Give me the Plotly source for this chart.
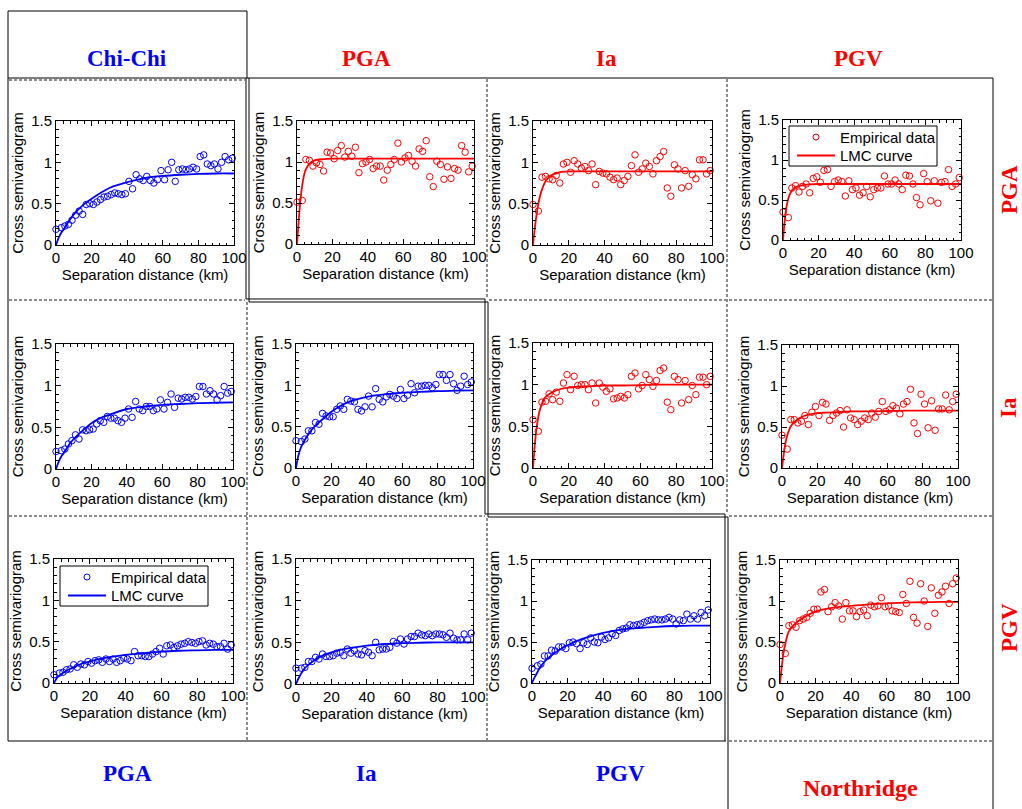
import plotly.graph_objects as go

W, H = 1022, 809

# Separation distance of the empirical bins (km)
DIST = [0, 3, 5, 7, 9, 11, 13, 15, 17, 19, 21, 23, 25, 27, 29, 31, 33, 35, 37, 39,
        41, 43, 45, 47, 49, 51, 53, 55, 57, 59, 61, 63, 65, 67, 69, 71, 73, 75, 77, 79,
        81, 83, 85, 87, 89, 91, 93, 95, 97, 99]
# Distances at which the fitted LMC curves are tabulated (km)
FIT_DIST = [0, 1, 2, 3, 4, 5, 7, 10, 15, 20, 25, 30, 40, 50, 60, 70, 80, 90, 100]

# ---- Chi-Chi (lower triangle) ----
CC_PGA_PGA = [0.19, 0.21, 0.23, 0.25, 0.30, 0.36, 0.41, 0.37, 0.49, 0.50,
              0.49, 0.52, 0.55, 0.58, 0.59, 0.61, 0.63, 0.62, 0.61, 0.62,
              0.77, 0.68, 0.85, 0.80, 0.78, 0.83, 0.78, 0.75, 0.79, 0.90,
              0.79, 0.91, 1.00, 0.77, 0.91, 0.92, 0.91, 0.92, 0.94, 0.92,
              1.07, 1.09, 0.98, 0.96, 0.98, 0.92, 1.00, 1.07, 1.03, 1.05]
CC_PGA_PGA_FIT = [0, 0.06, 0.11, 0.15, 0.18, 0.21, 0.28, 0.37, 0.48, 0.56,
                  0.63, 0.69, 0.76, 0.81, 0.835, 0.85, 0.86, 0.865, 0.865]

CC_PGA_IA = [0.21, 0.22, 0.24, 0.30, 0.34, 0.41, 0.36, 0.47, 0.46, 0.47,
             0.48, 0.54, 0.58, 0.56, 0.63, 0.61, 0.61, 0.58, 0.56, 0.61,
             0.72, 0.62, 0.81, 0.72, 0.70, 0.75, 0.75, 0.70, 0.72, 0.83,
             0.72, 0.80, 0.90, 0.74, 0.85, 0.84, 0.86, 0.86, 0.84, 0.87,
             0.99, 0.99, 0.90, 0.94, 0.90, 0.83, 0.88, 0.99, 0.91, 0.93]
CC_PGA_IA_FIT = [0, 0.06, 0.11, 0.15, 0.18, 0.21, 0.28, 0.36, 0.46, 0.55,
                 0.61, 0.65, 0.72, 0.75, 0.77, 0.78, 0.79, 0.795, 0.80]

CC_IA_IA = [0.33, 0.32, 0.35, 0.45, 0.45, 0.55, 0.53, 0.66, 0.63, 0.62,
            0.62, 0.71, 0.75, 0.71, 0.83, 0.81, 0.80, 0.71, 0.69, 0.74,
            0.87, 0.74, 0.96, 0.83, 0.80, 0.86, 0.89, 0.87, 0.84, 0.95,
            0.84, 0.88, 1.02, 0.91, 0.99, 0.99, 1.00, 1.00, 0.97, 1.01,
            1.13, 1.13, 1.06, 1.13, 1.02, 0.94, 0.99, 1.11, 1.01, 1.04]
CC_IA_IA_FIT = [0, 0.12, 0.20, 0.26, 0.30, 0.34, 0.41, 0.49, 0.59, 0.68,
                0.75, 0.80, 0.86, 0.89, 0.91, 0.92, 0.93, 0.935, 0.94]

CC_PGV_PGA = [0.10, 0.12, 0.13, 0.16, 0.17, 0.22, 0.19, 0.23, 0.22, 0.26,
              0.24, 0.27, 0.28, 0.25, 0.29, 0.26, 0.29, 0.25, 0.27, 0.30,
              0.29, 0.27, 0.38, 0.33, 0.33, 0.32, 0.32, 0.35, 0.38, 0.42,
              0.35, 0.45, 0.46, 0.43, 0.45, 0.47, 0.48, 0.50, 0.49, 0.48,
              0.50, 0.51, 0.46, 0.48, 0.47, 0.44, 0.44, 0.48, 0.41, 0.46]
CC_PGV_PGA_FIT = [0, 0.04, 0.07, 0.09, 0.11, 0.12, 0.15, 0.18, 0.23, 0.26,
                  0.29, 0.31, 0.34, 0.36, 0.38, 0.39, 0.395, 0.40, 0.40]

CC_PGV_IA = [0.19, 0.19, 0.20, 0.27, 0.27, 0.32, 0.30, 0.36, 0.33, 0.33,
             0.34, 0.37, 0.38, 0.34, 0.42, 0.37, 0.40, 0.36, 0.35, 0.40,
             0.38, 0.34, 0.50, 0.41, 0.42, 0.42, 0.44, 0.51, 0.49, 0.54,
             0.48, 0.54, 0.57, 0.57, 0.61, 0.59, 0.58, 0.60, 0.58, 0.60,
             0.60, 0.59, 0.56, 0.61, 0.55, 0.53, 0.53, 0.60, 0.53, 0.61]
CC_PGV_IA_FIT = [0, 0.05, 0.09, 0.13, 0.16, 0.19, 0.23, 0.28, 0.34, 0.38,
                 0.41, 0.43, 0.46, 0.48, 0.49, 0.495, 0.50, 0.50, 0.50]

CC_PGV_PGV = [0.18, 0.21, 0.23, 0.33, 0.33, 0.40, 0.39, 0.44, 0.44, 0.42,
              0.49, 0.50, 0.48, 0.42, 0.49, 0.47, 0.55, 0.50, 0.49, 0.56,
              0.53, 0.55, 0.60, 0.58, 0.64, 0.66, 0.67, 0.71, 0.70, 0.71,
              0.72, 0.74, 0.76, 0.77, 0.78, 0.77, 0.77, 0.78, 0.80, 0.78,
              0.72, 0.77, 0.76, 0.84, 0.78, 0.82, 0.78, 0.86, 0.82, 0.89]
CC_PGV_PGV_FIT = [0, 0.05, 0.09, 0.13, 0.17, 0.20, 0.26, 0.32, 0.40, 0.46,
                  0.51, 0.55, 0.61, 0.65, 0.67, 0.685, 0.695, 0.70, 0.70]

# ---- Northridge (upper triangle) ----
NR_PGA_PGA = [0.51, 0.53, 1.03, 1.02, 0.95, 0.99, 0.97, 0.89, 1.12, 1.11,
              1.04, 1.14, 1.20, 1.06, 1.13, 1.07, 1.18, 0.87, 0.98, 1.00,
              1.03, 0.92, 0.95, 0.95, 0.78, 0.90, 0.97, 1.03, 1.23, 1.00,
              1.05, 1.08, 1.01, 0.95, 1.16, 1.13, 1.26, 0.82, 0.70, 1.01,
              0.97, 0.79, 0.94, 0.80, 0.92, 0.90, 1.20, 1.12, 0.88, 0.95]
NR_PGA_PGA_FIT = [0, 0.30, 0.55, 0.72, 0.84, 0.91, 0.98, 1.02, 1.035, 1.04,
                  1.04, 1.04, 1.04, 1.04, 1.04, 1.04, 1.04, 1.04, 1.04]

NR_PGA_IA = [0.49, 0.41, 0.82, 0.83, 0.80, 0.79, 0.84, 0.75, 0.98, 1.00,
             0.88, 1.02, 0.98, 0.93, 0.95, 0.90, 0.98, 0.73, 0.89, 0.87,
             0.86, 0.82, 0.79, 0.81, 0.73, 0.78, 0.83, 0.96, 1.09, 0.88,
             0.92, 0.99, 0.95, 0.86, 1.02, 1.07, 1.13, 0.69, 0.59, 0.97,
             0.92, 0.69, 0.90, 0.71, 0.85, 0.80, 1.03, 1.03, 0.86, 0.90]
NR_PGA_IA_FIT = [0, 0.20, 0.37, 0.50, 0.60, 0.67, 0.77, 0.84, 0.88, 0.89,
                 0.89, 0.89, 0.89, 0.89, 0.89, 0.89, 0.89, 0.89, 0.89]

NR_PGA_PGV = [0.35, 0.28, 0.65, 0.68, 0.60, 0.67, 0.70, 0.59, 0.77, 0.79,
              0.72, 0.87, 0.88, 0.67, 0.73, 0.75, 0.73, 0.55, 0.74, 0.63,
              0.65, 0.56, 0.59, 0.67, 0.54, 0.63, 0.65, 0.65, 0.80, 0.70,
              0.70, 0.75, 0.70, 0.63, 0.81, 0.80, 0.70, 0.53, 0.44, 0.83,
              0.73, 0.49, 0.74, 0.46, 0.72, 0.73, 0.88, 0.67, 0.70, 0.78]
NR_PGA_PGV_FIT = [0, 0.25, 0.42, 0.52, 0.58, 0.62, 0.66, 0.68, 0.695, 0.70,
                  0.70, 0.70, 0.70, 0.70, 0.70, 0.70, 0.70, 0.70, 0.70]

NR_IA_IA = [0.58, 0.44, 0.79, 0.80, 0.89, 0.82, 0.91, 0.80, 1.02, 1.12,
            0.94, 1.10, 0.99, 1.00, 1.00, 0.94, 1.02, 0.78, 1.02, 0.97,
            0.92, 0.95, 0.83, 0.84, 0.86, 0.84, 0.88, 1.10, 1.14, 0.95,
            0.99, 1.12, 1.06, 0.98, 1.05, 1.17, 1.20, 0.79, 0.70, 1.10,
            1.06, 0.78, 1.05, 0.82, 0.99, 0.88, 1.09, 1.09, 1.00, 1.10]
NR_IA_IA_FIT = [0, 0.28, 0.48, 0.62, 0.71, 0.77, 0.85, 0.90, 0.945, 0.965,
                0.975, 0.98, 0.99, 0.99, 0.995, 1.0, 1.0, 1.0, 1.0]

NR_IA_PGV = [0.40, 0.23, 0.59, 0.59, 0.55, 0.57, 0.64, 0.53, 0.68, 0.75,
             0.64, 0.80, 0.78, 0.58, 0.64, 0.67, 0.70, 0.50, 0.71, 0.61,
             0.59, 0.53, 0.57, 0.61, 0.59, 0.67, 0.62, 0.69, 0.81, 0.69,
             0.71, 0.76, 0.73, 0.66, 0.78, 0.81, 0.96, 0.55, 0.42, 0.90,
             0.78, 0.49, 0.82, 0.46, 0.72, 0.72, 0.89, 0.71, 0.81, 0.90]
NR_IA_PGV_FIT = [0, 0.17, 0.31, 0.40, 0.46, 0.51, 0.56, 0.61, 0.65, 0.67,
                 0.675, 0.68, 0.69, 0.69, 0.695, 0.70, 0.70, 0.70, 0.70]

NR_PGV_PGV = [0.47, 0.36, 0.70, 0.71, 0.68, 0.76, 0.78, 0.80, 0.85, 0.90,
              0.90, 1.11, 1.14, 0.87, 0.93, 0.98, 0.94, 0.78, 0.98, 0.88,
              0.88, 0.81, 0.87, 0.89, 0.82, 0.95, 0.93, 0.94, 1.04, 0.93,
              0.94, 0.88, 0.87, 0.86, 1.08, 0.97, 1.24, 0.80, 0.73, 1.21,
              1.00, 0.69, 1.16, 0.85, 1.07, 1.11, 1.18, 0.97, 1.21, 1.28]
NR_PGV_PGV_FIT = [0, 0.20, 0.37, 0.48, 0.57, 0.63, 0.69, 0.75, 0.82, 0.87,
                  0.90, 0.92, 0.94, 0.96, 0.97, 0.98, 0.985, 0.99, 0.99]

BLUE = "#0000ff"
RED = "#ff0000"

# (points, fitted curve, colour, plot-area box in pixels: left, right, top, bottom)
PANELS = [
    (CC_PGA_PGA, CC_PGA_PGA_FIT, BLUE, (56, 234, 121, 245)),
    (NR_PGA_PGA, NR_PGA_PGA_FIT, RED, (297, 474, 121, 244)),
    (NR_PGA_IA, NR_PGA_IA_FIT, RED, (533, 712, 121, 245)),
    (NR_PGA_PGV, NR_PGA_PGV_FIT, RED, (783, 961, 120, 240)),
    (CC_PGA_IA, CC_PGA_IA_FIT, BLUE, (56, 233, 344, 469)),
    (CC_IA_IA, CC_IA_IA_FIT, BLUE, (296, 473, 344, 468)),
    (NR_IA_IA, NR_IA_IA_FIT, RED, (533, 712, 343, 468)),
    (NR_IA_PGV, NR_IA_PGV_FIT, RED, (782, 958, 345, 468)),
    (CC_PGV_PGA, CC_PGV_PGA_FIT, BLUE, (54, 233, 559, 683)),
    (CC_PGV_IA, CC_PGV_IA_FIT, BLUE, (296, 473, 559, 684)),
    (CC_PGV_PGV, CC_PGV_PGV_FIT, BLUE, (532, 710, 560, 683)),
    (NR_PGV_PGV, NR_PGV_PGV_FIT, RED, (780, 958, 560, 683)),
]
# legend boxes (left, top in pixels) and their colour
LEGENDS = [((789, 126), RED), ((60, 566), BLUE)]


def px(x):
    return x / W


def py(y):
    return 1 - y / H


AX_FONT = dict(family="Liberation Sans, Arial, sans-serif", size=15, color="black")

fig = go.Figure()
layout_axes = {}
for i, (pts, fit, color, box) in enumerate(PANELS):
    n = i + 1
    xa, ya = f"x{n}", f"y{n}"
    fig.add_trace(go.Scatter(
        x=DIST, y=pts, mode="markers", xaxis=xa, yaxis=ya,
        name="Empirical data", cliponaxis=False, showlegend=False,
        marker=dict(symbol="circle-open", size=6.5, color=color, line=dict(width=1, color=color)),
    ))
    fig.add_trace(go.Scatter(
        x=FIT_DIST, y=fit, mode="lines", xaxis=xa, yaxis=ya,
        name="LMC curve", cliponaxis=False, showlegend=False,
        line=dict(color=color, width=1.8, shape="spline", smoothing=0.8),
    ))
    left, right, top, bottom = box
    common = dict(
        showline=True, linecolor="black", linewidth=1, mirror="ticks",
        ticks="inside", ticklen=5, tickwidth=1, tickcolor="black",
        showgrid=False, zeroline=False, tickfont=AX_FONT, automargin=False,
        tickmode="linear", tick0=0,
    )
    layout_axes[f"xaxis{n}"] = dict(
        common, domain=[px(left), px(right)], anchor=ya, range=[0, 100], dtick=20,
        ticklabelstandoff=-1,
        minor=dict(ticks="inside", ticklen=2.5, tickcolor="black", dtick=4, tick0=0),
        title=dict(text="Separation distance (km)", font=AX_FONT, standoff=0),
    )
    layout_axes[f"yaxis{n}"] = dict(
        common, domain=[py(bottom), py(top)], anchor=xa, range=[0, 1.5], dtick=0.5,
        minor=dict(ticks="inside", ticklen=2.5, tickcolor="black", dtick=0.1, tick0=0),
        title=dict(text="Cross semivariogram", font=AX_FONT, standoff=3),
    )

shapes = []
annotations = []


def seg(x0, y0, x1, y1, color="black", width=1, dash="solid"):
    shapes.append(dict(type="line", xref="paper", yref="paper",
                       x0=px(x0), y0=py(y0), x1=px(x1), y1=py(y1),
                       line=dict(color=color, width=width, dash=dash)))


def poly(points, color="black", width=1):
    path = "M " + " L ".join(f"{px(x):.5f},{py(y):.5f}" for x, y in points)
    shapes.append(dict(type="path", xref="paper", yref="paper", path=path,
                       line=dict(color=color, width=width)))


# grey dashed cell separators
GRAY = "#8c8c8c"
DASH = "3px,2px"
for (x0, y0, x1, y1) in [
    (9, 80, 245, 80),
    (9, 300, 245, 300), (489, 300, 992, 300),
    (9, 516, 485, 516), (729, 516, 992, 516),
    (729, 741, 992, 741),
    (247, 302, 247, 740),
    (487, 79, 487, 298), (487, 518, 487, 740),
    (727, 79, 727, 514),
]:
    seg(x0, y0, x1, y1, GRAY, 2, DASH)

# solid frames
poly([(247, 78), (247, 11), (8, 11), (8, 741), (726, 741)])
seg(8, 78, 993, 78)
seg(993, 78, 993, 809)
# double staircase between the two triangles
poly([(246, 78), (246, 299), (485, 299), (485, 514), (725, 514), (725, 741)])
poly([(249, 78), (249, 302), (488, 302), (488, 517), (728, 517), (728, 809)])

# legends: framed box with an open-circle sample and a line sample
for (lx, ly), color in LEGENDS:
    shapes.append(dict(type="rect", xref="paper", yref="paper",
                       x0=px(lx), x1=px(lx + 148), y0=py(ly + 40), y1=py(ly),
                       line=dict(color="black", width=1), fillcolor="white", layer="above"))
    shapes.append(dict(type="circle", xref="paper", yref="paper",
                       x0=px(lx + 27 - 3), x1=px(lx + 27 + 3),
                       y0=py(ly + 11 + 3), y1=py(ly + 11 - 3),
                       line=dict(color=color, width=1), layer="above"))
    seg(lx + 8, ly + 29.5, lx + 46, ly + 29.5, color, 2)
    shapes[-1]["layer"] = "above"
    for text, dy in [("Empirical data", 11), ("LMC curve", 29.5)]:
        annotations.append(dict(text=text, x=px(lx + 49), y=py(ly + dy), xref="paper", yref="paper",
                                xanchor="left", yanchor="middle", showarrow=False, font=AX_FONT))

HEAD = "Liberation Serif, Times New Roman, serif"


def label(text, x, y, color, size=23, angle=0):
    annotations.append(dict(text=f"<b>{text}</b>", x=px(x), y=py(y), xref="paper", yref="paper",
                            xanchor="center", yanchor="middle", showarrow=False,
                            textangle=angle, font=dict(family=HEAD, size=size, color=color)))


label("Chi-Chi", 127, 58, BLUE)
label("PGA", 366, 58, RED)
label("Ia", 606, 58, RED)
label("PGV", 858, 58, RED)
label("PGA", 1009, 190, RED, angle=-90)
label("Ia", 1009, 408, RED, angle=-90)
label("PGV", 1009, 628, RED, angle=-90)
label("PGA", 127, 773, BLUE)
label("Ia", 366, 773, BLUE)
label("PGV", 620, 773, BLUE)
label("Northridge", 860, 788, RED, size=24)

fig.update_layout(
    width=W, height=H, autosize=False,
    margin=dict(l=0, r=0, t=0, b=0, autoexpand=False),
    paper_bgcolor="white", plot_bgcolor="white",
    showlegend=False,
    shapes=shapes, annotations=annotations,
    **layout_axes,
)

fig.write_html("out.html")
